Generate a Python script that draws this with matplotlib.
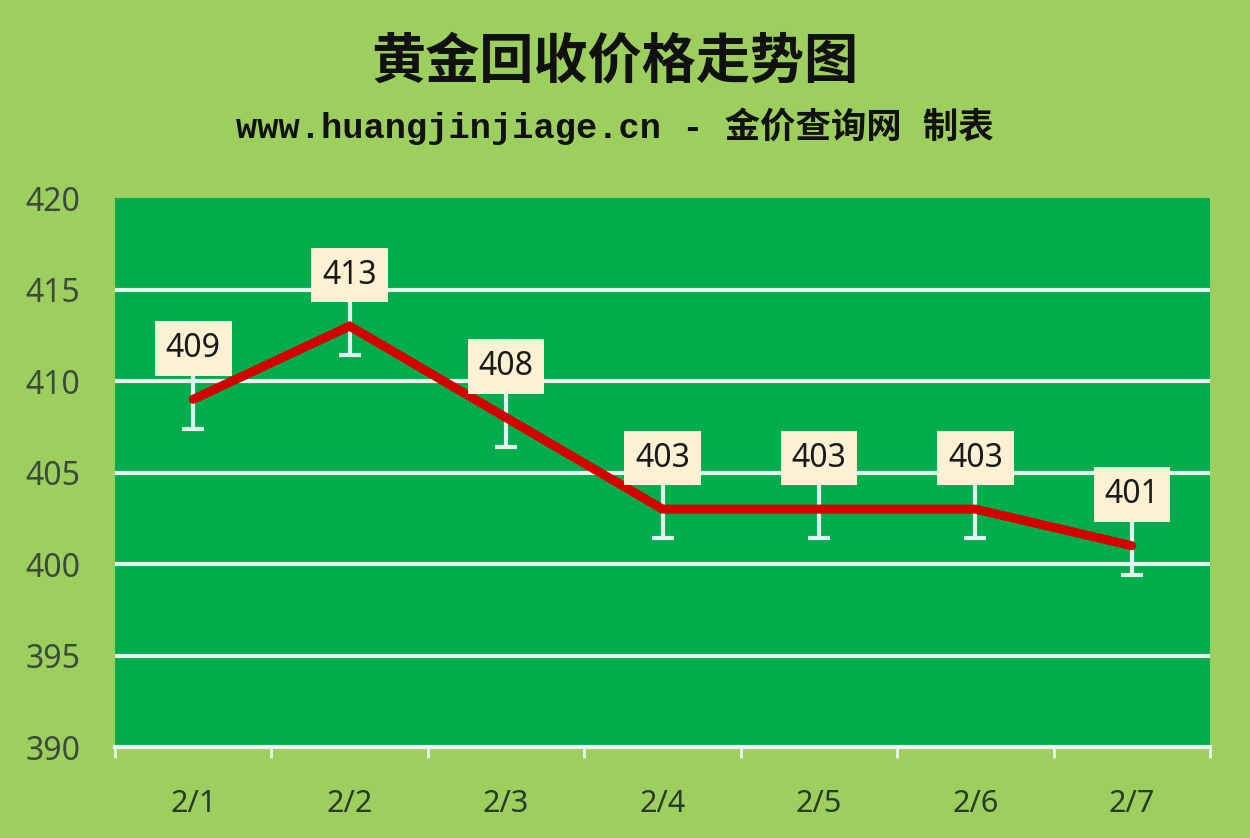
import matplotlib.pyplot as plt

dates = ['2/1', '2/2', '2/3', '2/4', '2/5', '2/6', '2/7']
prices = [409, 413, 408, 403, 403, 403, 401]
err = [1.6, 1.6, 1.6, 1.6, 1.6, 1.6, 1.6]
y_ticks = [390, 395, 400, 405, 410, 415, 420]

bg = '#9dcf5e'
plot_bg = '#00ad4c'
grid_c = '#e6f5ef'

fig = plt.figure(figsize=(12.5, 8.38), dpi=100, facecolor=bg)
ax = fig.add_axes([115 / 1250, 1 - 747 / 838, 1095 / 1250, 549 / 838])
ax.set_facecolor(plot_bg)

x = list(range(len(dates)))
for t in y_ticks[1:-1]:
    ax.axhline(t, color=grid_c, lw=3, zorder=1)

ax.errorbar(x, prices, yerr=err, fmt='none', ecolor='#e0f2f0', elinewidth=3,
            capsize=8, capthick=3, zorder=2)
ax.plot(x, prices, color='#d40000', lw=6.5, solid_capstyle='round',
        solid_joinstyle='miter', zorder=3)

for xi, p in zip(x, prices):
    ax.annotate(str(p), (xi, p), xytext=(0, 51), textcoords='offset pixels',
                ha='center', va='center', fontsize=23, color='#1a1a1a',
                family='Noto Sans', zorder=5,
                bbox=dict(boxstyle='square,pad=0.34', fc='#fdf1d3', ec='none'))

ax.set_xlim(-0.5, 6.5)
ax.set_ylim(390, 420)
ax.set_yticks(y_ticks)
ax.set_yticklabels([str(t) for t in y_ticks], fontsize=23, color='#3c4a3c', family='Noto Sans')
ax.set_xticks([i - 0.5 for i in range(len(dates) + 1)])
ax.set_xticklabels([])
ax.set_xticks(x, minor=True)
ax.set_xticklabels(dates, minor=True, fontsize=22, color='#2a3a2a', family='Noto Sans')
ax.tick_params(axis='x', which='major', length=8, width=2, color=grid_c, direction='out')
ax.tick_params(axis='x', which='minor', length=0, pad=30)
ax.tick_params(axis='y', length=0, pad=25)
for s in ['top', 'right', 'left']:
    ax.spines[s].set_visible(False)
ax.spines['bottom'].set_color(grid_c)
ax.spines['bottom'].set_linewidth(3)

fig.text(0.492, 1 - 62 / 838, '黄金回收价格走势图', ha='center', va='center',
         fontsize=39, fontweight='bold', color='#111111', family=['Noto Sans CJK SC'])
fig.text(0.492, 1 - 126 / 838, 'www.huangjinjiage.cn - 金价查询网 制表', ha='center', va='center',
         fontsize=25.5, fontweight='bold', color='#111111',
         family=['Liberation Mono', 'Noto Sans CJK SC'])

plt.savefig('out.png', dpi=100, facecolor=bg)
